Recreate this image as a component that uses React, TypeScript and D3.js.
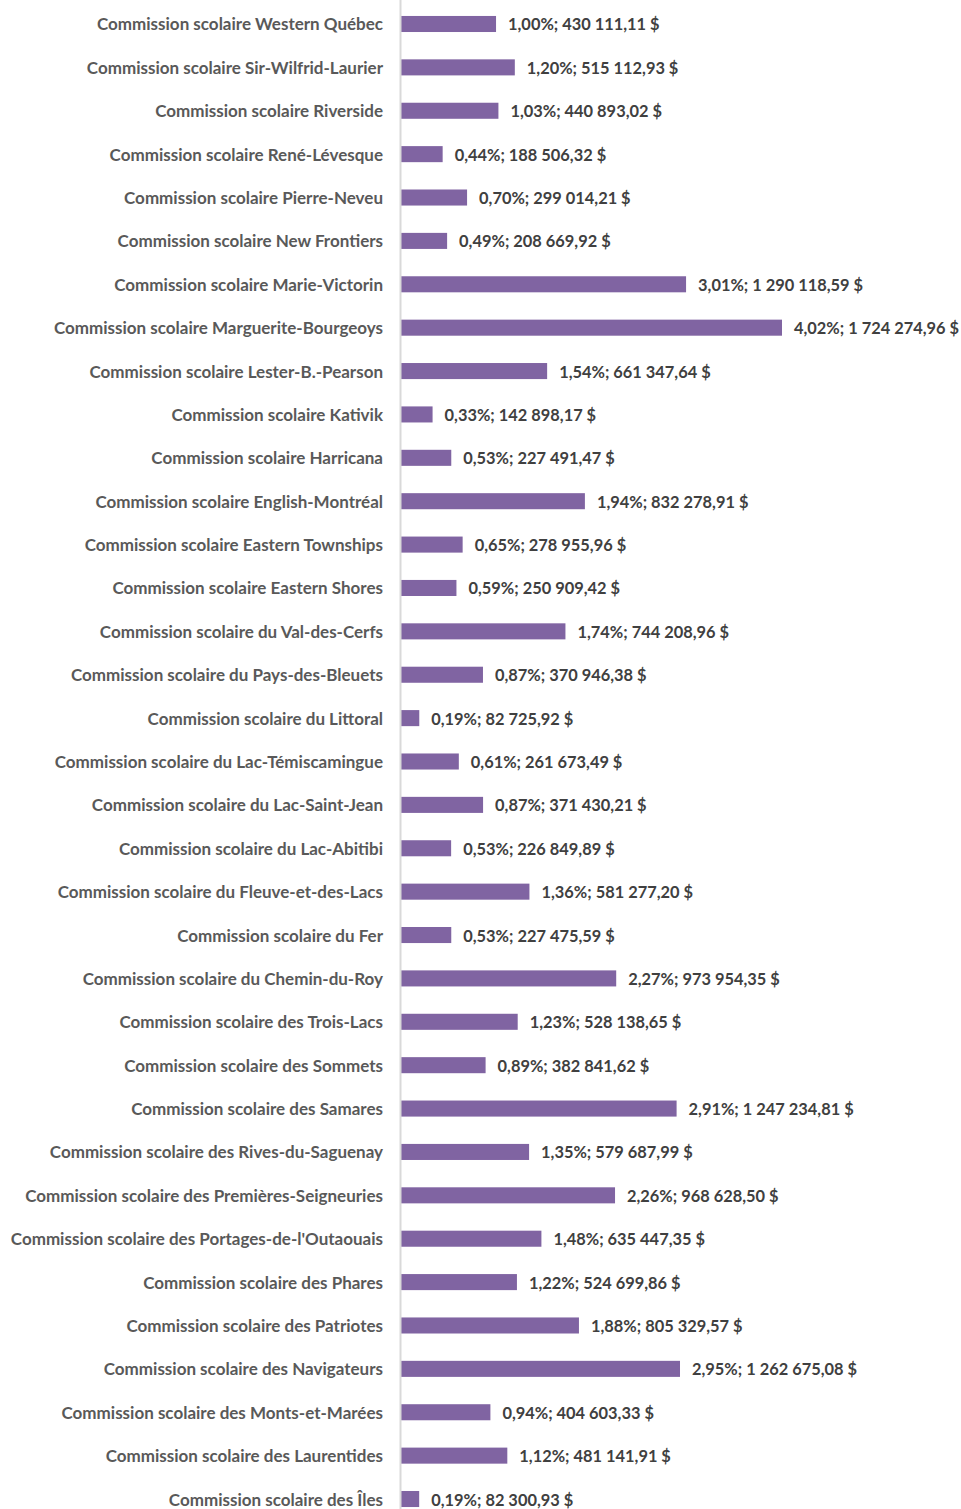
import React from "react";
import * as d3 from "d3";

const categories = [
  "Commission scolaire Western Québec",
  "Commission scolaire Sir-Wilfrid-Laurier",
  "Commission scolaire Riverside",
  "Commission scolaire René-Lévesque",
  "Commission scolaire Pierre-Neveu",
  "Commission scolaire New Frontiers",
  "Commission scolaire Marie-Victorin",
  "Commission scolaire Marguerite-Bourgeoys",
  "Commission scolaire Lester-B.-Pearson",
  "Commission scolaire Kativik",
  "Commission scolaire Harricana",
  "Commission scolaire English-Montréal",
  "Commission scolaire Eastern Townships",
  "Commission scolaire Eastern Shores",
  "Commission scolaire du Val-des-Cerfs",
  "Commission scolaire du Pays-des-Bleuets",
  "Commission scolaire du Littoral",
  "Commission scolaire du Lac-Témiscamingue",
  "Commission scolaire du Lac-Saint-Jean",
  "Commission scolaire du Lac-Abitibi",
  "Commission scolaire du Fleuve-et-des-Lacs",
  "Commission scolaire du Fer",
  "Commission scolaire du Chemin-du-Roy",
  "Commission scolaire des Trois-Lacs",
  "Commission scolaire des Sommets",
  "Commission scolaire des Samares",
  "Commission scolaire des Rives-du-Saguenay",
  "Commission scolaire des Premières-Seigneuries",
  "Commission scolaire des Portages-de-l'Outaouais",
  "Commission scolaire des Phares",
  "Commission scolaire des Patriotes",
  "Commission scolaire des Navigateurs",
  "Commission scolaire des Monts-et-Marées",
  "Commission scolaire des Laurentides",
  "Commission scolaire des Îles",
];

const percents = [
  "1,00%", "1,20%", "1,03%", "0,44%", "0,70%", "0,49%", "3,01%", "4,02%", "1,54%", "0,33%",
  "0,53%", "1,94%", "0,65%", "0,59%", "1,74%", "0,87%", "0,19%", "0,61%", "0,87%", "0,53%",
  "1,36%", "0,53%", "2,27%", "1,23%", "0,89%", "2,91%", "1,35%", "2,26%", "1,48%", "1,22%",
  "1,88%", "2,95%", "0,94%", "1,12%", "0,19%",
];

const amounts = [
  430111.11, 515112.93, 440893.02, 188506.32, 299014.21, 208669.92, 1290118.59, 1724274.96,
  661347.64, 142898.17, 227491.47, 832278.91, 278955.96, 250909.42, 744208.96, 370946.38,
  82725.92, 261673.49, 371430.21, 226849.89, 581277.2, 227475.59, 973954.35, 528138.65,
  382841.62, 1247234.81, 579687.99, 968628.5, 635447.35, 524699.86, 805329.57, 1262675.08,
  404603.33, 481141.91, 82300.93,
];

const W = 961;
const H = 1509;
const axisX = 400.5;

const fmtAmount = (v: number) => {
  const [intPart, dec] = v.toFixed(2).split(".");
  const withSpaces = intPart.replace(/\B(?=(\d{3})+(?!\d))/g, " ");
  return `${withSpaces},${dec} $`;
};

export default function App() {
  const y = d3
    .scaleBand<number>()
    .domain(d3.range(categories.length))
    .range([2.3, 1520.7])
    .paddingInner(0.63)
    .paddingOuter(0.315);
  const x = d3.scaleLinear().domain([0, 1724274.96]).range([axisX + 0.5, 782]);
  const font = "Lato, 'Open Sans', sans-serif";
  return (
    <svg
      width={W}
      height={H}
      style={{ position: "absolute", left: 0, top: 0, background: "#fff" }}
      fontFamily={font}
    >
      <rect x={0} y={0} width={W} height={H} fill="#fff" />
      {categories.map((c, i) => {
        const yc = (y(i) as number) + y.bandwidth() / 2;
        return (
          <g key={c}>
            <text
              x={383}
              y={yc}
              textAnchor="end"
              dominantBaseline="central"
              fontSize={17}
              fontWeight="bold"
              fill="#595959"
            >
              {c}
            </text>
            <rect
              x={x(0)}
              y={y(i)}
              width={x(amounts[i]) - x(0)}
              height={y.bandwidth()}
              fill="#8064a2"
            />
            <text
              x={x(amounts[i]) + 12}
              y={yc}
              dominantBaseline="central"
              fontSize={16.4}
              fontWeight="bold"
              fill="#404040"
            >
              {`${percents[i]}; ${fmtAmount(amounts[i])}`}
            </text>
          </g>
        );
      })}
      <line x1={axisX} x2={axisX} y1={0} y2={H} stroke="#d9d9d9" strokeWidth={2} />
    </svg>
  );
}
